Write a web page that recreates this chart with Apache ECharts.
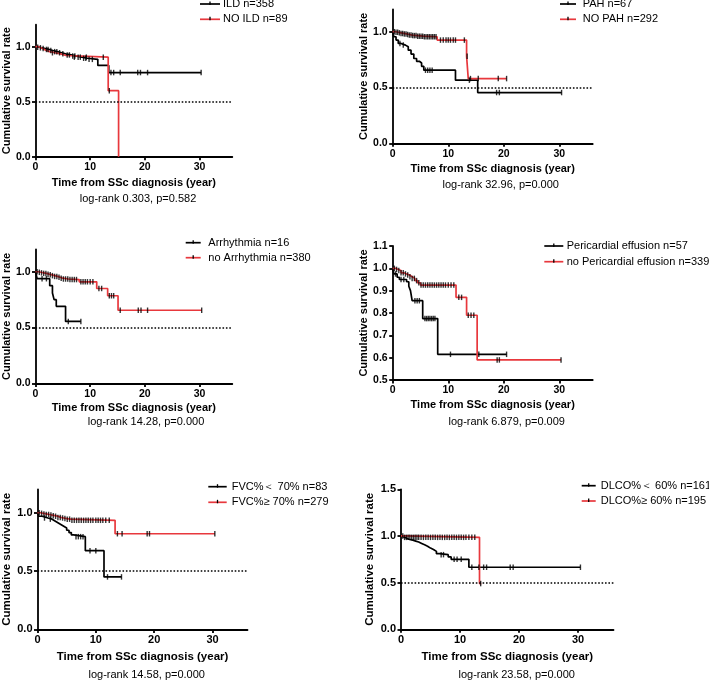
<!DOCTYPE html>
<html><head><meta charset="utf-8">
<script src="https://cdn.jsdelivr.net/npm/echarts@6/dist/echarts.min.js"></script>
<style>html,body{margin:0;padding:0;background:#fff}#c{width:709px;height:680px}</style>
</head><body><div id="c"></div>
<script>
// ---------- DATA ----------
var xTicks = [0, 10, 20, 30];
var yTicksStd = [0, 0.5, 1.0];
var yTicksPer = [0.5, 0.6, 0.7, 0.8, 0.9, 1.0, 1.1];
var yTicksDl = [0, 0.5, 1.0, 1.5];
var refLevel = 0.5;

// Panel 1: ILD
var ildT = [0,0.3,0.7,1.2,1.8,2.5,3.2,4,4.8,5.5,6.5,7.5,8.5,9.5,11.4,13.4];
var ildS = [1,0.995,0.99,0.983,0.975,0.965,0.955,0.945,0.935,0.925,0.915,0.905,0.895,0.885,0.83,0.765];
var ildEnd = 30.3;
var ildCens = [0.4,0.9,1.4,2.0,2.3,2.8,3.5,3.9,4.4,5.0,5.8,6.2,6.8,7.2,7.8,8.2,8.8,9.2,9.8,10.4,13.8,14.3,15.5,18.7,19.2,20.5,30.3];
var noIldT = [0,0.6,1.2,1.8,2.6,3.6,4.6,5.6,13.3,15.2];
var noIldS = [1,0.985,0.97,0.955,0.945,0.935,0.92,0.905,0.6,0];
var noIldEnd = 15.2;
var noIldCens = [3.1,7.1,9.3,12.4,13.5];

// Panel 2: PAH
var pahT = [0,0.2,0.6,1.0,1.5,2.3,2.8,3.3,3.8,4.3,4.8,5.2,5.6,11.3,15.3];
var pahS = [1,0.955,0.925,0.895,0.88,0.865,0.835,0.8,0.76,0.735,0.72,0.69,0.655,0.566,0.455];
var pahEnd = 30.4;
var pahCens = [1.3,1.9,5.9,6.3,6.7,7.1,13.8,18.7,19.2,30.4];
var noPahT = [0,0.5,1,1.5,2,2.5,3,3.5,4.5,5.5,8,13.3,13.6];
var noPahS = [1,0.995,0.99,0.985,0.98,0.975,0.97,0.965,0.96,0.955,0.925,0.78,0.58];
var noPahEnd = 20.5;
var noPahCens = [0.3,0.6,0.9,1.2,1.5,1.8,2.1,2.4,2.7,3.0,3.3,3.6,3.9,4.2,4.5,4.8,5.1,5.4,5.7,6.0,6.3,6.6,6.9,7.2,7.5,7.8,8.6,9.1,9.6,10.0,10.4,10.9,11.3,12.9,13.4,14.0,15.4,19.0,20.5];

// Panel 3: Arrhythmia
var arrT = [0,0.3,2.6,3.1,3.4,3.8,5.5];
var arrS = [1,0.9375,0.875,0.81,0.75,0.69,0.555];
var arrEnd = 8.3;
var arrCens = [1.2,2.0,6.0,8.3];
var noArrT = [0,0.5,1,1.5,2,2.5,3,3.5,4,4.5,5,6,8,11.2,13.2,15.1];
var noArrS = [1,0.995,0.99,0.985,0.978,0.972,0.965,0.958,0.95,0.942,0.935,0.93,0.91,0.85,0.785,0.655];
var noArrEnd = 30.4;
var noArrCens = [0.3,0.7,1.1,1.5,1.9,2.3,2.7,3.1,3.5,3.9,4.3,4.7,5.1,5.5,5.9,6.3,6.7,7.1,7.5,8.3,8.7,9.1,9.5,10.0,10.5,11.6,12.1,13.5,13.9,14.3,15.5,18.8,19.3,20.5,30.4];

// Panel 4: Pericardial effusion
var perT = [0,0.2,0.8,1.2,2.5,2.9,3.2,3.5,5.4,8.1];
var perS = [1,0.975,0.96,0.95,0.94,0.92,0.9,0.855,0.775,0.615];
var perEnd = 20.5;
var perCens = [0.5,1.5,2.0,4.0,4.4,4.8,5.8,6.1,6.4,6.7,7.0,7.3,7.6,10.4,15.5,20.5];
var noPerT = [0,0.5,1,1.5,2,2.5,3,3.5,4,4.5,5,11.4,13.3,15.2];
var noPerS = [1,0.995,0.99,0.98,0.975,0.97,0.962,0.955,0.945,0.935,0.925,0.87,0.79,0.59];
var noPerEnd = 30.3;
var noPerCens = [0.3,0.7,1.1,1.5,1.9,2.3,2.7,3.1,3.5,3.9,4.3,4.7,5.1,5.5,5.9,6.3,6.7,7.1,7.5,7.9,8.3,8.7,9.1,9.5,10.0,10.5,11.0,11.9,12.4,13.6,14.1,14.6,18.8,19.2,30.3];

// Panel 5: FVC
var fvcLowT = [0,0.2,0.8,1.8,2.5,3,3.5,4,4.5,5,5.4,5.8,6.2,8.2,11.4];
var fvcLowS = [1,0.97,0.955,0.945,0.93,0.915,0.9,0.885,0.87,0.85,0.83,0.81,0.795,0.675,0.45];
var fvcLowEnd = 14.4;
var fvcLowCens = [1.2,2.2,6.6,7.0,7.4,7.8,9.0,10.0,12.0,14.4];
var fvcHighT = [0,0.5,1,1.5,2,2.5,3,3.5,4,4.5,5,5.7,13.3];
var fvcHighS = [1,0.995,0.99,0.985,0.98,0.975,0.97,0.96,0.955,0.95,0.945,0.935,0.82];
var fvcHighEnd = 30.4;
var fvcHighCens = [0.3,0.7,1.1,1.5,1.9,2.3,2.7,3.1,3.5,3.9,4.3,4.7,5.1,5.5,5.9,6.3,6.7,7.1,7.5,7.9,8.3,8.7,9.1,9.5,10.0,10.4,10.8,11.2,11.7,12.3,13.7,14.5,18.8,19.2,30.4];

// Panel 6: DLCO
var dlLowT = [0,0.3,0.8,1.3,2,2.5,3,3.5,4,4.5,5,5.5,6,6.5,8,8.5,11.5];
var dlLowS = [1,0.98,0.965,0.955,0.945,0.935,0.92,0.905,0.89,0.87,0.855,0.835,0.81,0.8,0.775,0.75,0.665];
var dlLowEnd = 30.4;
var dlLowCens = [6.8,7.2,9.0,9.5,10.2,12.0,13.2,14.0,14.5,18.5,19.0,30.4];
var dlHighT = [0,0.5,13.3];
var dlHighS = [1,0.985,0.49];
var dlHighEnd = 13.6;
var dlHighCens = [0.3,0.6,0.9,1.2,1.5,1.8,2.1,2.4,2.7,3.0,3.4,3.8,4.2,4.6,5.0,5.4,5.8,6.2,6.6,7.0,7.4,7.8,8.2,8.6,9.0,9.4,9.8,10.2,10.6,11.0,11.5,12.0,12.5,13.5];

var legendNames = [
  ['ILD n=358', 'NO ILD n=89'],
  ['PAH n=67', 'NO PAH n=292'],
  ['Arrhythmia n=16', 'no Arrhythmia n=380'],
  ['Pericardial effusion n=57', 'no Pericardial effusion n=339'],
  ['FVC%\uFF1C 70% n=83', 'FVC%\u2265 70% n=279'],
  ['DLCO%\uFF1C 60% n=161', 'DLCO%\u2265 60% n=195']
];
var logRankTexts = [
  'log-rank 0.303, p=0.582',
  'log-rank 32.96, p=0.000',
  'log-rank 14.28, p=0.000',
  'log-rank 6.879, p=0.009',
  'log-rank 14.58, p=0.000',
  'log-rank 23.58, p=0.000'
];

// ---------- LAYOUT ----------
var FONT = '"Liberation Sans", Arial, Helvetica, sans-serif';
var BLACK = '#000000';
var RED = '#e8383d';
var panels = [
  {grid:{left:32.7,top:24.7,width:199.6,height:132}, yMin:0,yMax:1.2,yTicks:yTicksStd, ref:true,
   groups:[[ildT,ildS,ildEnd,ildCens],[noIldT,noIldS,noIldEnd,noIldCens]],
   xGap:20.5, yGap:22, tickFs:10.5, titleFs:11, leg:{x1:200,x2:220,tx:223,y:[4,19.3]}, lr:{x:138,y:199}},
  {grid:{left:392.7,top:9.4,width:200,height:133.9}, yMin:0,yMax:1.2,yTicks:yTicksStd, ref:true,
   groups:[[pahT,pahS,pahEnd,pahCens],[noPahT,noPahS,noPahEnd,noPahCens]],
   xGap:20.5, yGap:20.5, tickFs:10.5, titleFs:11, leg:{x1:560,x2:576,tx:582.7,y:[4,19.3]}, lr:{x:500.7,y:185}},
  {grid:{left:32.7,top:249.4,width:199.6,height:134}, yMin:0,yMax:1.2,yTicks:yTicksStd, ref:true,
   groups:[[arrT,arrS,arrEnd,arrCens],[noArrT,noArrS,noArrEnd,noArrCens]],
   xGap:19.5, yGap:22, tickFs:10.5, titleFs:11, leg:{x1:185.7,x2:200.7,tx:208.3,y:[242.7,257.7]}, lr:{x:146,y:422.3}},
  {grid:{left:392.7,top:246,width:200,height:134}, yMin:0.5,yMax:1.1,yTicks:yTicksPer, ref:false,
   groups:[[perT,perS,perEnd,perCens],[noPerT,noPerS,noPerEnd,noPerCens]],
   xGap:19.5, yGap:22, tickFs:10.5, titleFs:11, leg:{x1:544.3,x2:563.3,tx:566.7,y:[246,261.7]}, lr:{x:506.7,y:421.7}},
  {grid:{left:35,top:489.4,width:212.5,height:140}, yMin:0,yMax:1.2,yTicks:yTicksStd, ref:true,
   groups:[[fvcLowT,fvcLowS,fvcLowEnd,fvcLowCens],[fvcHighT,fvcHighS,fvcHighEnd,fvcHighCens]],
   xGap:21.5, yGap:24.5, tickFs:11, titleFs:11.5, leg:{x1:208.3,x2:226.7,tx:231.7,y:[486.7,502.3]}, lr:{x:146.7,y:675}},
  {grid:{left:401,top:489.3,width:212.5,height:140}, yMin:0,yMax:1.5,yTicks:yTicksDl, ref:true,
   groups:[[dlLowT,dlLowS,dlLowEnd,dlLowCens],[dlHighT,dlHighS,dlHighEnd,dlHighCens]],
   xGap:22, yGap:25, tickFs:11, titleFs:11.5, leg:{x1:581.7,x2:595.7,tx:600.7,y:[485.7,501]}, lr:{x:516.7,y:675}}
];

function stepData(T, S, end) {
  var d = [];
  for (var i = 0; i < T.length; i++) d.push([T[i], S[i]]);
  d.push([end, S[S.length - 1]]);
  return d;
}
function survAt(T, S, t) {
  var v = S[0];
  for (var i = 0; i < T.length; i++) { if (T[i] <= t) v = S[i]; }
  return v;
}

var grids = [], xAxes = [], yAxes = [], series = [], graphics = [];
panels.forEach(function (p, i) {
  grids.push(Object.assign({containLabel:false}, p.grid));
  xAxes.push({
    type:'value', gridIndex:i, min:0, max:36,
    axisLine:{show:true, onZero:false, lineStyle:{color:BLACK, width:1.8}},
    axisTick:{show:true, length:3.5, customValues:xTicks, lineStyle:{color:BLACK, width:1.8}},
    axisLabel:{customValues:xTicks, color:BLACK, fontWeight:'bold', fontSize:p.tickFs, fontFamily:FONT, margin:5},
    splitLine:{show:false},
    name:'Time from SSc diagnosis (year)', nameLocation:'middle', nameGap:p.xGap,
    nameTextStyle:{color:BLACK, fontWeight:'bold', fontSize:p.titleFs, fontFamily:FONT}
  });
  yAxes.push({
    type:'value', gridIndex:i, min:p.yMin, max:p.yMax,
    axisLine:{show:true, onZero:false, lineStyle:{color:BLACK, width:1.8}},
    axisTick:{show:true, length:3.5, customValues:p.yTicks, lineStyle:{color:BLACK, width:1.8}},
    axisLabel:{customValues:p.yTicks, color:BLACK, fontWeight:'bold', fontSize:p.tickFs, fontFamily:FONT, margin:5,
      formatter:function (v) { return (+v).toFixed(1); }},
    splitLine:{show:false},
    name:'Cumulative survival rate', nameLocation:'middle', nameGap:p.yGap,
    nameTextStyle:{color:BLACK, fontWeight:'bold', fontSize:p.titleFs, fontFamily:FONT}
  });
  var colors = [BLACK, RED];
  p.groups.forEach(function (g, k) {
    var s = {
      type:'line', xAxisIndex:i, yAxisIndex:i, step:'end', showSymbol:false, symbol:'none',
      data:stepData(g[0], g[1], g[2]), lineStyle:{color:colors[k], width:1.7}, itemStyle:{color:colors[k]},
      z:2 + k, animation:false, silent:true
    };
    if (k === 0 && p.ref) {
      s.markLine = {silent:true, symbol:'none', label:{show:false}, animation:false,
        lineStyle:{color:BLACK, width:1.6, type:[1.6, 1.8]}, data:[{yAxis:refLevel}]};
    }
    series.push(s);
  });
  p.groups.forEach(function (g) {
    series.push({
      type:'scatter', xAxisIndex:i, yAxisIndex:i, symbol:'rect', symbolSize:[1.4, 5.5],
      itemStyle:{color:BLACK}, z:5, animation:false, silent:true,
      data:g[3].map(function (t) { return [t, survAt(g[0], g[1], t)]; })
    });
  });
  // legend
  [0, 1].forEach(function (k) {
    var y = p.leg.y[k];
    graphics.push({type:'line', shape:{x1:p.leg.x1, y1:y, x2:p.leg.x2, y2:y}, style:{stroke:colors[k], lineWidth:1.7}, silent:true});
    var mx = (p.leg.x1 + p.leg.x2) / 2;
    graphics.push({type:'line', shape:{x1:mx, y1:y - 2.5, x2:mx, y2:y + 1}, style:{stroke:BLACK, lineWidth:1.3}, silent:true});
    graphics.push({type:'text', x:p.leg.tx, y:y, style:{text:legendNames[i][k], fill:BLACK,
      font:'11px ' + FONT, verticalAlign:'middle', align:'left'}, silent:true});
  });
  graphics.push({type:'text', x:p.lr.x, y:p.lr.y, style:{text:logRankTexts[i], fill:BLACK,
    font:'11px ' + FONT, verticalAlign:'middle', align:'center'}, silent:true});
});

var chart = echarts.init(document.getElementById('c'), null, {renderer:'canvas'});
chart.setOption({
  backgroundColor:'#ffffff',
  animation:false,
  grid:grids, xAxis:xAxes, yAxis:yAxes, series:series, graphic:graphics
});
</script></body></html>
